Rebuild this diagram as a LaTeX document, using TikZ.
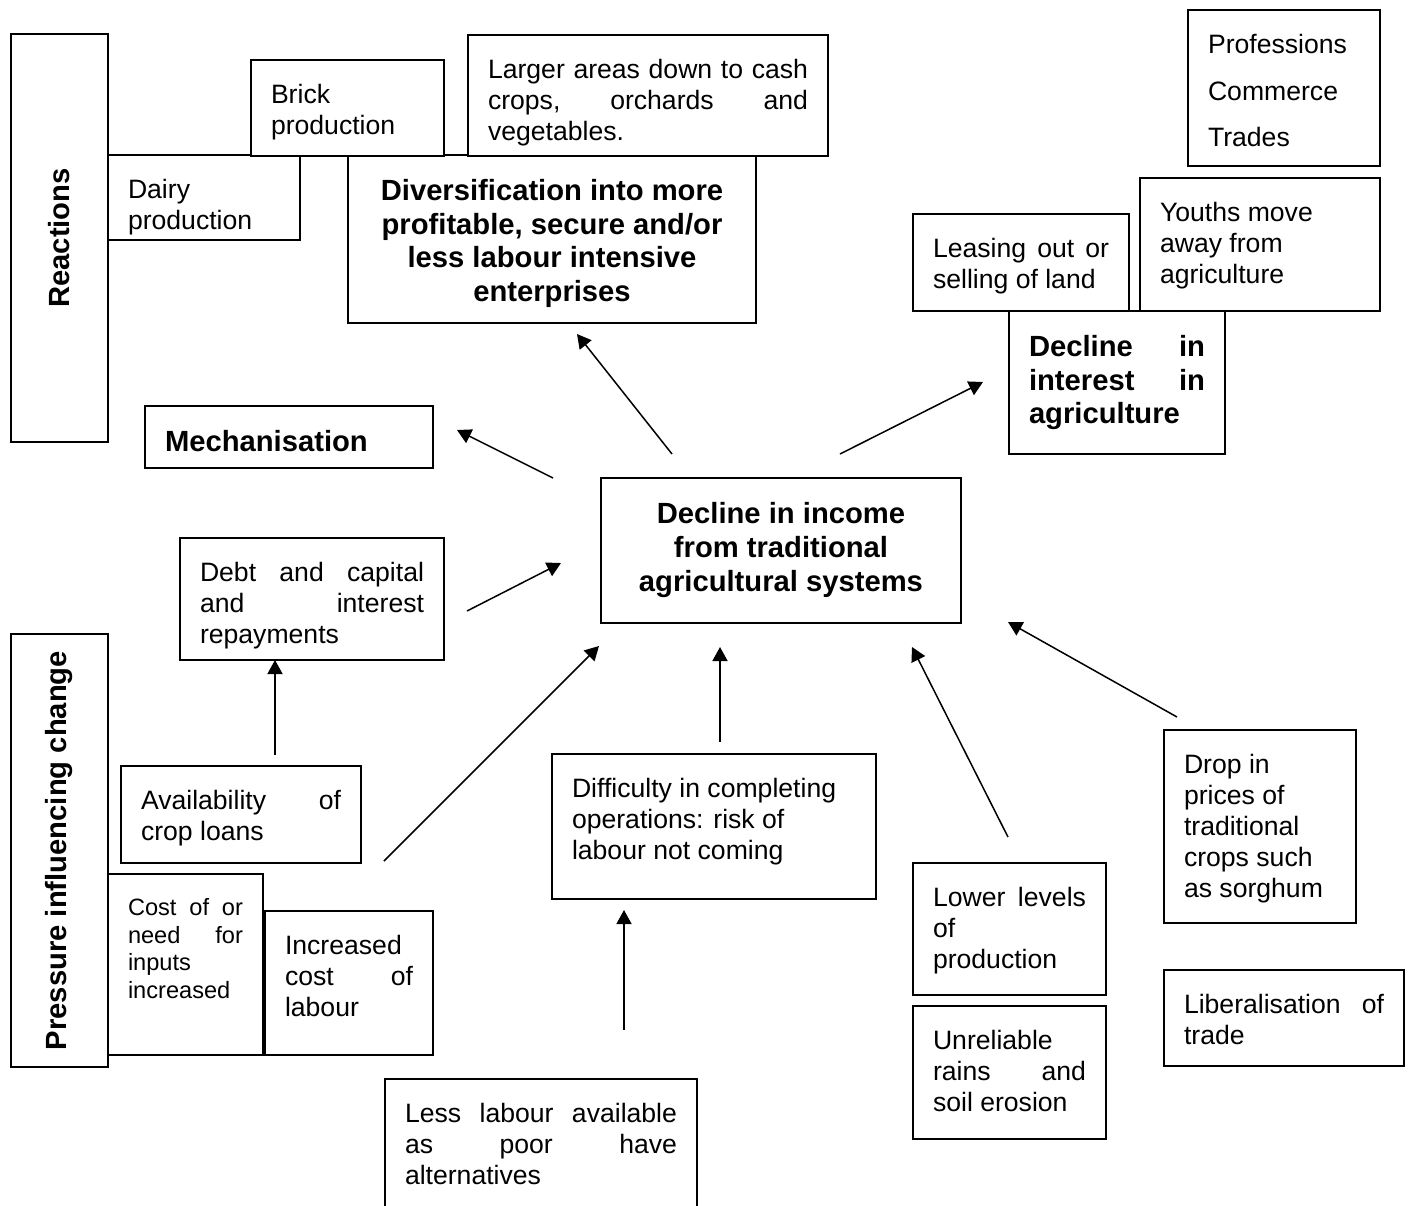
\documentclass[tikz,border=0pt]{standalone}
\usepackage{graphicx}
\usepackage{fontspec}
\setmainfont{Liberation Sans}
\usetikzlibrary{arrows.meta}

% text block of a box: width and height of the box in pixels
\newcommand{\boxtext}[3]{\parbox[c][\dimexpr#2pt/2-22pt\relax][t]{\dimexpr#1pt/2-20pt\relax}{\strut#3}}

\tikzset{
  box/.style={draw, fill=white, line width=1pt, anchor=north west, inner xsep=10pt, inner ysep=11pt,
    font=\fontsize{13.3}{15.5}\selectfont},
  boldtext/.style={font=\fontsize{14.6}{16.85}\selectfont\bfseries},
  smalltext/.style={font=\fontsize{11.8}{13.85}\selectfont},
  side/.style={draw, fill=white, line width=1pt, anchor=north west, inner sep=0pt,
    minimum width=48.5pt, font=\fontsize{14.6}{16.85}\selectfont\bfseries},
  arr/.style={-{Triangle[length=7pt,width=7.5pt]}, line width=0.75pt}
}

\begin{document}
\begin{tikzpicture}[x=0.5pt,y=-0.5pt]
\useasboundingbox (0,0) rectangle (1410,1206);

% reactions
\node[side, minimum height=204pt] (react) at (10,33) {\rotatebox{90}{Reactions}};
\node[box] (dairy) at (107,154) {\boxtext{192}{85}{Dairy\\production}};
\node[box, boldtext] (divers) at (347,154) {\boxtext{408}{168}{\centering Diversification into more\\profitable, secure and/or\\less labour intensive\\enterprises}};
\node[box] (brick) at (250,59) {\boxtext{193}{96}{Brick\\production}};
\node[box] (larger) at (467,34) {\boxtext{360}{121}{Larger\hfill areas\hfill down\hfill to\hfill cash\\crops,\hfill orchards\hfill and\\vegetables.}};
\node[box, boldtext] (mech) at (144,405) {\boxtext{288}{62}{Mechanisation}};

\node[box] (leasing) at (912,213) {\boxtext{216}{97}{Leasing\hfill out\hfill or\\selling of land}};
\node[box] (youths) at (1139,177) {\boxtext{240}{133}{Youths move\\away from\\agriculture}};
\node[box, boldtext] (interest) at (1008,310) {\boxtext{216}{143}{Decline\hfill in\\interest\hfill in\\agriculture}};
\node[box] (prof) at (1187,9) {\boxtext{192}{156}{Professions\\[7.75pt]Commerce\\[7.75pt]Trades}};

% centre
\node[box, boldtext] (ctr) at (600,477) {\boxtext{360}{145}{\centering Decline in income\\from traditional\\agricultural systems}};

% pressures
\node[side, minimum height=216.5pt] (press) at (10,633) {\rotatebox{90}{Pressure influencing change}};
\node[box] (debt) at (179,537) {\boxtext{264}{122}{Debt\hfill and\hfill capital\\and\hfill interest\\repayments}};
\node[box] (avail) at (120,765) {\boxtext{240}{97}{Availability\hfill of\\crop loans}};
\node[box, smalltext] (cost) at (107,873) {\boxtext{155}{181}{Cost\hfill of\hfill or\\need\hfill for\\inputs\\increased}};
\node[box] (incr) at (264,910) {\boxtext{168}{144}{Increased\\cost\hfill of\\labour}};
\node[box] (less) at (384,1078) {\boxtext{312}{180}{Less\hfill labour\hfill available\\as\hfill poor\hfill have\\alternatives}};
\node[box] (diff) at (551,753) {\boxtext{324}{145}{Difficulty in completing\\operations: risk of\\labour not coming}};
\node[box] (lower) at (912,862) {\boxtext{193}{132}{Lower\hfill levels\\of\\production}};
\node[box] (unrel) at (912,1005) {\boxtext{193}{133}{Unreliable\\rains\hfill and\\soil erosion}};
\node[box] (drop) at (1163,729) {\boxtext{192}{193}{Drop in\\prices of\\traditional\\crops such\\as sorghum}};
\node[box] (liber) at (1163,969) {\boxtext{240}{96}{Liberalisation\hfill of\\trade}};

% arrow ends
\coordinate (ctr-div) at (672,454);  \coordinate (div-in) at (577,334);
\coordinate (ctr-mech) at (553,478); \coordinate (mech-in) at (457,430);
\coordinate (ctr-int) at (840,454);  \coordinate (int-in) at (983,382);
\coordinate (debt-out) at (467,611); \coordinate (ctr-debt) at (561,563);
\coordinate (avail-out) at (275,755); \coordinate (debt-in) at (275,660);
\coordinate (cost-out) at (384,861); \coordinate (ctr-cost) at (599,646);
\coordinate (less-out) at (624,1030); \coordinate (diff-in) at (624,910);
\coordinate (diff-out) at (720,742); \coordinate (ctr-diff) at (720,647);
\coordinate (lower-out) at (1008,837); \coordinate (ctr-lower) at (912,647);
\coordinate (drop-out) at (1177,717); \coordinate (ctr-drop) at (1008,622);

\draw[arr] (ctr-div) -- (div-in);
\draw[arr] (ctr-mech) -- (mech-in);
\draw[arr] (ctr-int) -- (int-in);
\draw[arr] (debt-out) -- (ctr-debt);
\draw[arr] (avail-out) -- (debt-in);
\draw[arr] (cost-out) -- (ctr-cost);
\draw[arr] (less-out) -- (diff-in);
\draw[arr] (diff-out) -- (ctr-diff);
\draw[arr] (lower-out) -- (ctr-lower);
\draw[arr] (drop-out) -- (ctr-drop);
\end{tikzpicture}
\end{document}
